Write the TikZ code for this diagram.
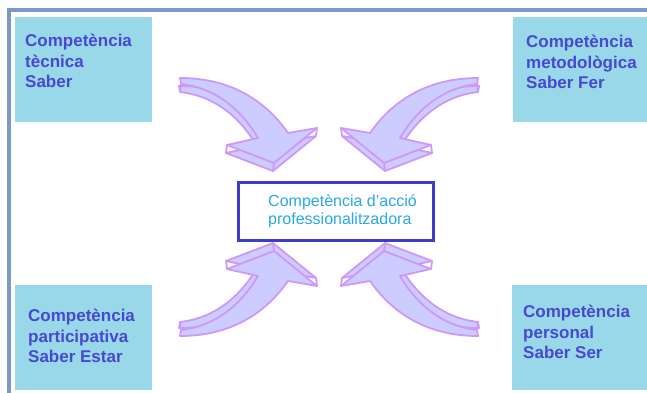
\documentclass[tikz,border=0pt]{standalone}
\usepackage{fontspec}
\setmainfont{Liberation Sans}
\definecolor{framecol}{RGB}{123,152,200}
\definecolor{boxfill}{RGB}{153,216,232}
\definecolor{boxtext}{RGB}{72,72,208}
\definecolor{actline}{RGB}{60,60,200}
\definecolor{acttext}{RGB}{40,168,236}
\definecolor{arrowfill}{RGB}{204,204,255}
\definecolor{arrowline}{RGB}{206,152,250}
% one curved arrow, drawn as the upper left one, around the centre
\newcommand{\arrowpath}{(-149,-129) .. controls (-99,-129) and (-64,-107) .. (-41,-74)
  -- (-12,-79) -- (-55,-44) -- (-102,-62) -- (-71,-69)
  .. controls (-89,-99) and (-114,-119) .. (-148,-123) -- cycle}
\newcommand{\bigarrow}[1]{%
  \begin{scope}[shift={(329,207)},#1]
    \path[arrowface,shift={(-1,8)}] \arrowpath;
    \path[arrowface] \arrowpath;
    \draw[arrowline,line width=1.8pt,line cap=round] (-12,-79) -- (-13,-71)
      (-102,-62) -- (-103,-54) (-55,-44) -- (-56,-36) (-148,-123) -- (-149,-115);
  \end{scope}}
\begin{document}
\begin{tikzpicture}[x=1pt,y=-1pt,
    compbox/.style={fill=boxfill,minimum width=137pt,minimum height=105pt,anchor=north west,inner sep=0pt},
    comptext/.style={text=boxtext,font=\fontsize{17}{20.5}\selectfont\bfseries,align=left,anchor=north west,inner sep=0pt},
    arrowface/.style={fill=arrowfill,draw=arrowline,line width=1.8pt,line join=round}]
	\useasboundingbox (0,0) rectangle (647,393);
	\draw[framecol,line width=3.5pt] (9,400) -- (9,10) -- (660,10);
	% the four competences
	\node[compbox] (tec) at (15,17) {};
	\node[comptext] (tectxt) at (25,34) {Competència\\tècnica\\Saber};
	\node[compbox,minimum width=140pt] (met) at (513,17) {};
	\node[comptext] (mettxt) at (526,35) {Competència\\metodològica\\Saber Fer};
	\node[compbox] (par) at (15,285) {};
	\node[comptext] (partxt) at (28,309) {Competència\\participativa\\Saber Estar};
	\node[compbox,minimum width=140pt] (per) at (512,285) {};
	\node[comptext] (pertxt) at (523,305) {Competència\\personal\\Saber Ser};
	% arrows towards the centre
	\bigarrow{}
	\bigarrow{xscale=-1}
	\bigarrow{yscale=-1}
	\bigarrow{xscale=-1,yscale=-1}
	\node[draw=actline,line width=3pt,fill=white,minimum width=195pt,minimum height=58pt,
	      text=acttext,font=\fontsize{16}{18}\selectfont,align=left] (act) at (335.5,211)
	      {\hspace*{14pt}Competència d'acció\\\hspace*{14pt}professionalitzadora};
\end{tikzpicture}
\end{document}
